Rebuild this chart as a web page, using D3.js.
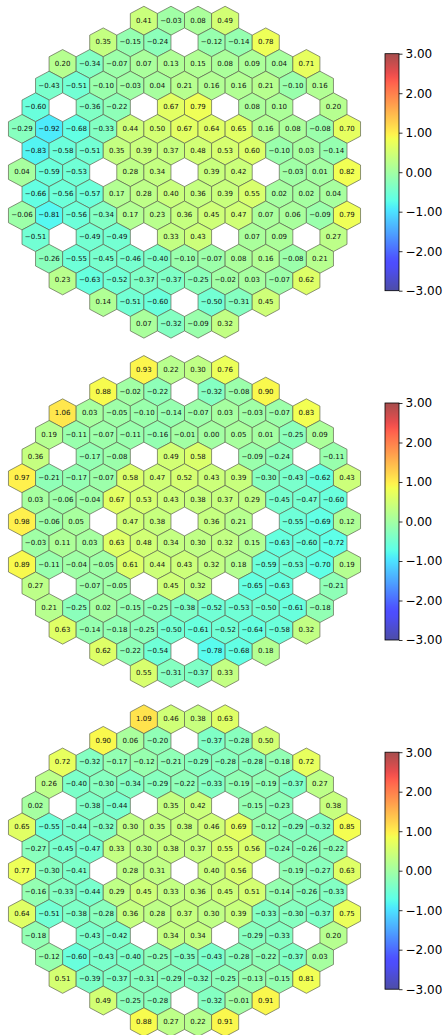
<!DOCTYPE html>
<html>
<head>
<meta charset="utf-8">
<script src="https://cdn.jsdelivr.net/npm/d3@7"></script>
<style>
  html, body { margin: 0; padding: 0; background: #fff; }
  svg { display: block; }
</style>
</head>
<body>
<div id="chart"></div>
<script>
// Column where each hexagon row begins (in hexagon-width units); rows hold null for empty slots.
const rowStart = [4.5, 3, 1.5, 1, 0.5, 0, 0.5, 0, 0.5, 0, 0.5, 1, 1.5, 3, 4.5];

const panelA = [
  [0.41, -0.03, 0.08, 0.49],
  [0.35, -0.15, -0.24, null, -0.12, -0.14, 0.78],
  [0.20, -0.34, -0.07, 0.07, 0.13, 0.15, 0.08, 0.09, 0.04, 0.71],
  [-0.43, -0.51, -0.10, -0.03, 0.04, 0.21, 0.16, 0.16, 0.21, -0.10, 0.16],
  [-0.60, null, -0.36, -0.22, null, 0.67, 0.79, null, 0.08, 0.10, null, 0.20],
  [-0.29, -0.92, -0.68, -0.33, 0.44, 0.50, 0.67, 0.64, 0.65, 0.16, 0.08, -0.08, 0.70],
  [-0.83, -0.58, -0.51, 0.35, 0.39, 0.37, 0.48, 0.53, 0.60, -0.10, 0.03, -0.14],
  [0.04, -0.59, -0.53, null, 0.28, 0.34, null, 0.39, 0.42, null, -0.03, 0.01, 0.82],
  [-0.66, -0.56, -0.57, 0.17, 0.28, 0.40, 0.36, 0.39, 0.55, 0.02, 0.02, 0.04],
  [-0.06, -0.81, -0.56, -0.34, 0.17, 0.23, 0.36, 0.45, 0.47, 0.07, 0.06, -0.09, 0.79],
  [-0.51, null, -0.49, -0.49, null, 0.33, 0.43, null, 0.07, 0.09, null, 0.27],
  [-0.26, -0.55, -0.45, -0.46, -0.40, -0.10, -0.07, 0.08, 0.16, -0.08, 0.21],
  [0.23, -0.63, -0.52, -0.37, -0.37, -0.25, -0.02, 0.03, -0.07, 0.62],
  [0.14, -0.51, -0.60, null, -0.50, -0.31, 0.45],
  [0.07, -0.32, -0.09, 0.32]
];

const panelB = [
  [0.93, 0.22, 0.30, 0.76],
  [0.88, -0.02, -0.22, null, -0.32, -0.08, 0.90],
  [1.06, 0.03, -0.05, -0.10, -0.14, -0.07, 0.03, -0.03, -0.07, 0.83],
  [0.19, -0.11, -0.07, -0.11, -0.16, -0.01, 0.00, 0.05, 0.01, -0.25, 0.09],
  [0.36, null, -0.17, -0.08, null, 0.49, 0.58, null, -0.09, -0.24, null, -0.11],
  [0.97, -0.21, -0.17, -0.07, 0.58, 0.47, 0.52, 0.43, 0.39, -0.30, -0.43, -0.62, 0.43],
  [0.03, -0.06, -0.04, 0.67, 0.53, 0.43, 0.38, 0.37, 0.29, -0.45, -0.47, -0.60],
  [0.98, -0.06, 0.05, null, 0.47, 0.38, null, 0.36, 0.21, null, -0.55, -0.69, 0.12],
  [-0.03, 0.11, 0.03, 0.63, 0.48, 0.34, 0.30, 0.32, 0.15, -0.63, -0.60, -0.72],
  [0.89, -0.11, -0.04, -0.05, 0.61, 0.44, 0.43, 0.32, 0.18, -0.59, -0.53, -0.70, 0.19],
  [0.27, null, -0.07, -0.05, null, 0.45, 0.32, null, -0.65, -0.63, null, -0.21],
  [0.21, -0.25, 0.02, -0.15, -0.25, -0.38, -0.52, -0.53, -0.50, -0.61, -0.18],
  [0.63, -0.14, -0.18, -0.25, -0.50, -0.61, -0.52, -0.64, -0.58, 0.32],
  [0.62, -0.22, -0.54, null, -0.78, -0.68, 0.18],
  [0.55, -0.31, -0.37, 0.33]
];

const panelC = [
  [1.09, 0.46, 0.38, 0.63],
  [0.90, 0.06, -0.20, null, -0.37, -0.28, 0.50],
  [0.72, -0.32, -0.17, -0.12, -0.21, -0.29, -0.28, -0.28, -0.18, 0.72],
  [0.26, -0.40, -0.30, -0.34, -0.29, -0.22, -0.33, -0.19, -0.19, -0.37, 0.27],
  [0.02, null, -0.38, -0.44, null, 0.35, 0.42, null, -0.15, -0.23, null, 0.38],
  [0.65, -0.55, -0.44, -0.32, 0.30, 0.35, 0.38, 0.46, 0.69, -0.12, -0.29, -0.32, 0.85],
  [-0.27, -0.45, -0.47, 0.33, 0.30, 0.38, 0.37, 0.55, 0.56, -0.24, -0.26, -0.22],
  [0.77, -0.30, -0.41, null, 0.28, 0.31, null, 0.40, 0.56, null, -0.19, -0.27, 0.63],
  [-0.16, -0.33, -0.44, 0.29, 0.45, 0.33, 0.36, 0.45, 0.51, -0.14, -0.26, -0.33],
  [0.64, -0.51, -0.38, -0.28, 0.36, 0.28, 0.37, 0.30, 0.39, -0.33, -0.30, -0.37, 0.75],
  [-0.18, null, -0.43, -0.42, null, 0.34, 0.34, null, -0.29, -0.33, null, 0.20],
  [-0.12, -0.60, -0.43, -0.40, -0.25, -0.35, -0.43, -0.28, -0.22, -0.37, 0.03],
  [0.51, -0.39, -0.37, -0.31, -0.29, -0.32, -0.25, -0.13, -0.15, 0.81],
  [0.49, -0.25, -0.28, null, -0.32, -0.01, 0.91],
  [0.88, 0.27, 0.22, 0.91]
];

const panels = [panelA, panelB, panelC];
const colorDomain = [-3, 3];
const colorTicks = [3, 2, 1, 0, -1, -2, -3];

const W = 445, H = 1035;
const panelTop = [20.7, 370.0, 719.2];
const fillAlpha = 0.7;

// Piecewise-linear "jet" colormap
const jetSeg = {
  r: [[0, 0], [0.35, 0], [0.66, 1], [0.89, 1], [1, 0.5]],
  g: [[0, 0], [0.125, 0], [0.375, 1], [0.64, 1], [0.91, 0], [1, 0]],
  b: [[0, 0.5], [0.11, 1], [0.34, 1], [0.65, 0], [1, 0]]
};
function seg(pts, t) {
  t = Math.max(0, Math.min(1, t));
  for (let i = 1; i < pts.length; i++) {
    if (t <= pts[i][0]) {
      const [x0, y0] = pts[i - 1], [x1, y1] = pts[i];
      return y0 + (y1 - y0) * (t - x0) / (x1 - x0);
    }
  }
  return pts[pts.length - 1][1];
}
function jet(t) {
  return d3.rgb(seg(jetSeg.r, t) * 255, seg(jetSeg.g, t) * 255, seg(jetSeg.b, t) * 255);
}
const norm = d3.scaleLinear().domain(colorDomain).range([0, 1]).clamp(true);
// Colour blended over white at the fill opacity
function fillColor(v) {
  const c = jet(norm(v));
  return d3.rgb(
    c.r * fillAlpha + 255 * (1 - fillAlpha),
    c.g * fillAlpha + 255 * (1 - fillAlpha),
    c.b * fillAlpha + 255 * (1 - fillAlpha)
  ).formatHex();
}

const fmt = d3.format(".2f");

const svg = d3.select("#chart").append("svg")
  .attr("width", W).attr("height", H)
  .style("font-family", "'DejaVu Sans', sans-serif");

const x = d3.scaleLinear().domain([0, 12]).range([22, 347]);
const hw = (x(1) - x(0)) / 2;

panels.forEach((rows, pi) => {
  const y = d3.scaleLinear().domain([0, 14]).range([panelTop[pi], panelTop[pi] + 303]);
  const R = (y(1) - y(0)) / 1.5;

  const cells = [];
  rows.forEach((row, ri) => {
    row.forEach((v, ci) => {
      if (v !== null) cells.push({ row: ri, col: rowStart[ri] + ci, value: v });
    });
  });

  const g = svg.append("g");
  const hex = (cx, cy) => [
    [cx, cy - R], [cx + hw, cy - R / 2], [cx + hw, cy + R / 2],
    [cx, cy + R], [cx - hw, cy + R / 2], [cx - hw, cy - R / 2]
  ].map(p => p.join(",")).join(" ");

  g.selectAll("polygon").data(cells).join("polygon")
    .attr("points", d => hex(x(d.col), y(d.row)))
    .attr("fill", d => fillColor(d.value))
    .attr("stroke", "#5f6650")
    .attr("stroke-width", 0.7);

  g.selectAll("text").data(cells).join("text")
    .attr("x", d => x(d.col))
    .attr("y", d => y(d.row))
    .attr("text-anchor", "middle")
    .attr("dominant-baseline", "central")
    .attr("font-size", 7)
    .attr("fill", "#111")
    .text(d => fmt(d.value));

  // Colour bar
  const mid = (y(0) + y(14)) / 2;
  const cb = d3.scaleLinear().domain(colorDomain).range([mid + 118.5, mid - 118.5]);
  const barX = 385, barW = 14;
  const gradId = "cbgrad" + pi;
  const grad = svg.append("defs").append("linearGradient")
    .attr("id", gradId).attr("x1", 0).attr("y1", 1).attr("x2", 0).attr("y2", 0);
  d3.range(0, 1.0001, 0.02).forEach(t => {
    grad.append("stop").attr("offset", t).attr("stop-color", fillColor(norm.invert(t)));
  });
  const cg = svg.append("g");
  cg.append("rect")
    .attr("x", barX).attr("y", cb(3)).attr("width", barW).attr("height", cb(-3) - cb(3))
    .attr("fill", `url(#${gradId})`)
    .attr("stroke", "#000").attr("stroke-width", 0.8);
  const axis = d3.axisRight(cb).tickValues(colorTicks).tickFormat(fmt).tickSize(3.5).tickPadding(3);
  const ag = cg.append("g").attr("transform", `translate(${barX + barW},0)`).call(axis);
  ag.select(".domain").remove();
  ag.selectAll("line").attr("stroke", "#000").attr("stroke-width", 0.8);
  ag.selectAll("text")
    .attr("font-size", 12)
    .attr("fill", "#000")
    .style("font-family", "'DejaVu Sans', sans-serif");
});
</script>
</body>
</html>
